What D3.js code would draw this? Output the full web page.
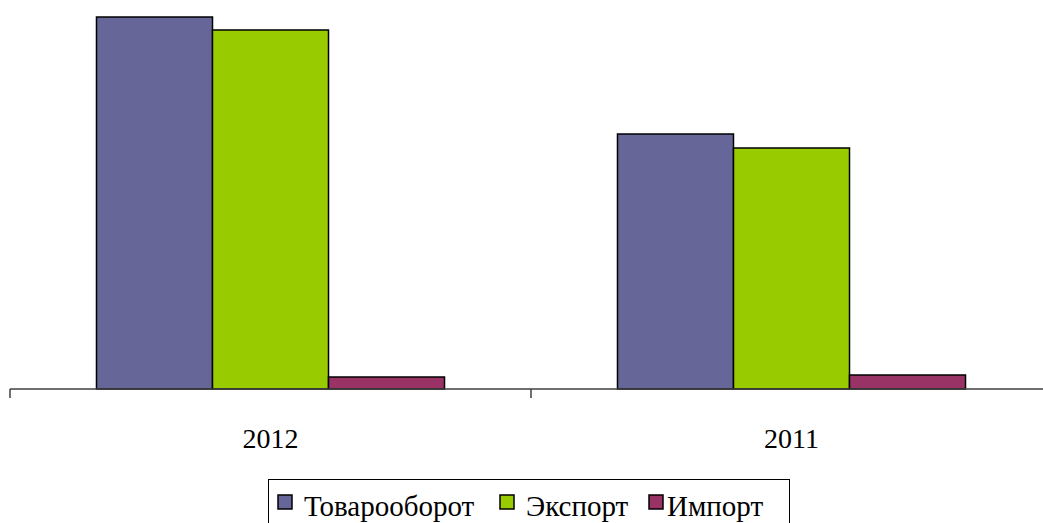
<!DOCTYPE html>
<html>
<head>
<meta charset="utf-8">
<script src="https://cdn.jsdelivr.net/npm/d3@7"></script>
<style>
body { margin: 0; background: #fff; }
svg { display: block; }
</style>
</head>
<body>
<div class="content"></div>
<script>
var years = ["2012", "2011"];
var seriesNames = ["Товарооборот", "Экспорт", "Импорт"];
var turnover = [372, 255];
var exportVals = [359, 241];
var importVals = [12, 14];
var colors = ["#666699", "#99cc00", "#993366"];

var width = 1043, height = 523;
var baseY = 389;

var svg = d3.select(".content").append("svg")
  .attr("width", width).attr("height", height);

var x0 = d3.scaleBand().domain(years).range([10, 1052]);
var groupW = x0.bandwidth() * 0.668;
var x1 = d3.scaleBand().domain(seriesNames).range([0, groupW]);
var y = d3.scaleLinear().domain([0, 372]).range([baseY, 17]);

var values = [turnover, exportVals, importVals];
var rows = [];
years.forEach(function(yr, i) {
  seriesNames.forEach(function(s, j) {
    rows.push({year: yr, series: s, value: values[j][i], color: colors[j]});
  });
});

svg.append("g").selectAll("rect").data(rows).enter().append("rect")
  .attr("x", function(d) { return x0(d.year) + (x0.bandwidth() - groupW) / 2 + x1(d.series); })
  .attr("y", function(d) { return y(d.value); })
  .attr("width", x1.bandwidth())
  .attr("height", function(d) { return baseY - y(d.value); })
  .attr("fill", function(d) { return d.color; })
  .attr("stroke", "#000")
  .attr("stroke-width", 1.5);

// axis
var axis = svg.append("g").attr("transform", "translate(0," + baseY + ")");
axis.append("line").attr("x1", 10).attr("x2", 1052).attr("y1", 0).attr("y2", 0)
  .attr("stroke", "#404040").attr("stroke-width", 1.5);
var tickXs = years.map(function(d) { return x0(d); });
axis.selectAll("line.tick").data(tickXs).enter().append("line")
  .attr("class", "tick")
  .attr("x1", function(d) { return d; }).attr("x2", function(d) { return d; })
  .attr("y1", 0).attr("y2", 9)
  .attr("stroke", "#404040").attr("stroke-width", 1.5);
axis.selectAll("text").data(years).enter().append("text")
  .attr("x", function(d) { return x0(d) + x0.bandwidth() / 2; })
  .attr("y", 59)
  .attr("text-anchor", "middle")
  .attr("font-family", "'Liberation Serif', 'Times New Roman', serif")
  .attr("font-size", 28)
  .attr("fill", "#000")
  .text(function(d) { return d; });

// legend
var legend = svg.append("g");
legend.append("rect").attr("x", 268.5).attr("y", 479.5).attr("width", 521).attr("height", 60)
  .attr("fill", "#fff").attr("stroke", "#000").attr("stroke-width", 1);
var legX = [278, 500, 649];
var textX = [304, 526, 667];
seriesNames.forEach(function(s, j) {
  legend.append("rect").attr("x", legX[j]).attr("y", 495).attr("width", 14).attr("height", 14)
    .attr("fill", colors[j]).attr("stroke", "#000").attr("stroke-width", 1.5);
  legend.append("text").attr("x", textX[j]).attr("y", 516)
    .attr("font-family", "'Liberation Serif', 'Times New Roman', serif")
    .attr("font-size", 29).attr("fill", "#000")
    .text(s);
});
</script>
</body>
</html>
